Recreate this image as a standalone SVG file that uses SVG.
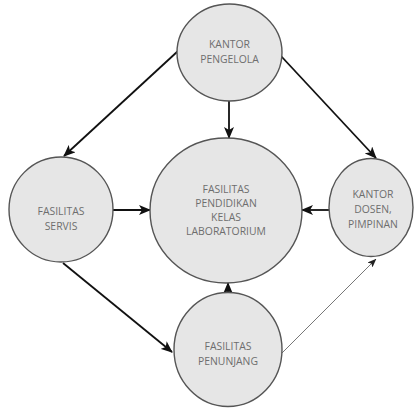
<svg xmlns="http://www.w3.org/2000/svg" width="417" height="409" viewBox="0 0 417 409">
  <style>
    .node { fill: #e6e6e6; stroke: #555; stroke-width: 1.4; }
    .label { font-family: "Open Sans", "Liberation Sans", sans-serif; font-size: 10.4px; fill: #6e6e6e; text-anchor: middle; }
    .link { fill: none; stroke: #111; stroke-width: 1.8; }
    .link-thin { fill: none; stroke: #777; stroke-width: 1; }
  </style>
  <defs>
    <marker id="arrow" markerWidth="12" markerHeight="10" refX="11" refY="5" orient="auto" markerUnits="userSpaceOnUse">
      <path d="M0,0 L12,5 L0,10 L3,5 Z" fill="#111"/>
    </marker>
    <marker id="arrow-small" markerWidth="9" markerHeight="7" refX="8.5" refY="3.5" orient="auto" markerUnits="userSpaceOnUse">
      <path d="M0,0 L9,3.5 L0,7 L2,3.5 Z" fill="#222"/>
    </marker>
  </defs>

  <rect width="417" height="409" fill="#fff"/>

  <g id="connectors">
    <line class="link" x1="178" y1="51" x2="64" y2="156" marker-end="url(#arrow)"/>
    <line class="link" x1="281" y1="56" x2="376" y2="158" marker-end="url(#arrow)"/>
    <line class="link" x1="229" y1="101" x2="229" y2="138" marker-end="url(#arrow)"/>
    <line class="link" x1="113" y1="210" x2="150" y2="210" marker-end="url(#arrow)"/>
    <line class="link" x1="329" y1="210" x2="302" y2="210" marker-end="url(#arrow)"/>
    <line class="link" x1="63" y1="263" x2="172" y2="352" marker-end="url(#arrow)"/>
    <line class="link" x1="228" y1="293" x2="228" y2="283" marker-end="url(#arrow)"/>
    <line class="link-thin" x1="282" y1="353" x2="376" y2="259" marker-end="url(#arrow-small)"/>
  </g>

  <g id="kantor-pengelola">
    <ellipse class="node" cx="229.5" cy="52.5" rx="52.5" ry="48.5"/>
    <text class="label" x="229.5" y="48">KANTOR</text>
    <text class="label" x="229.5" y="63">PENGELOLA</text>
  </g>

  <g id="fasilitas-servis">
    <ellipse class="node" cx="61" cy="209.5" rx="52" ry="52.5"/>
    <text class="label" x="61" y="215">FASILITAS</text>
    <text class="label" x="61" y="230">SERVIS</text>
  </g>

  <g id="fasilitas-pendidikan">
    <ellipse class="node" cx="226" cy="210.5" rx="76" ry="72.5"/>
    <text class="label" x="226" y="193">FASILITAS</text>
    <text class="label" x="226" y="207">PENDIDIKAN</text>
    <text class="label" x="226" y="221">KELAS</text>
    <text class="label" x="226" y="235">LABORATORIUM</text>
  </g>

  <g id="kantor-dosen">
    <ellipse class="node" cx="371" cy="207.5" rx="42" ry="49"/>
    <text class="label" x="373" y="198">KANTOR</text>
    <text class="label" x="373" y="213">DOSEN,</text>
    <text class="label" x="373" y="228">PIMPINAN</text>
  </g>

  <g id="fasilitas-penunjang">
    <ellipse class="node" cx="228" cy="349.5" rx="54" ry="57"/>
    <text class="label" x="228" y="350">FASILITAS</text>
    <text class="label" x="228" y="365">PENUNJANG</text>
  </g>
</svg>
